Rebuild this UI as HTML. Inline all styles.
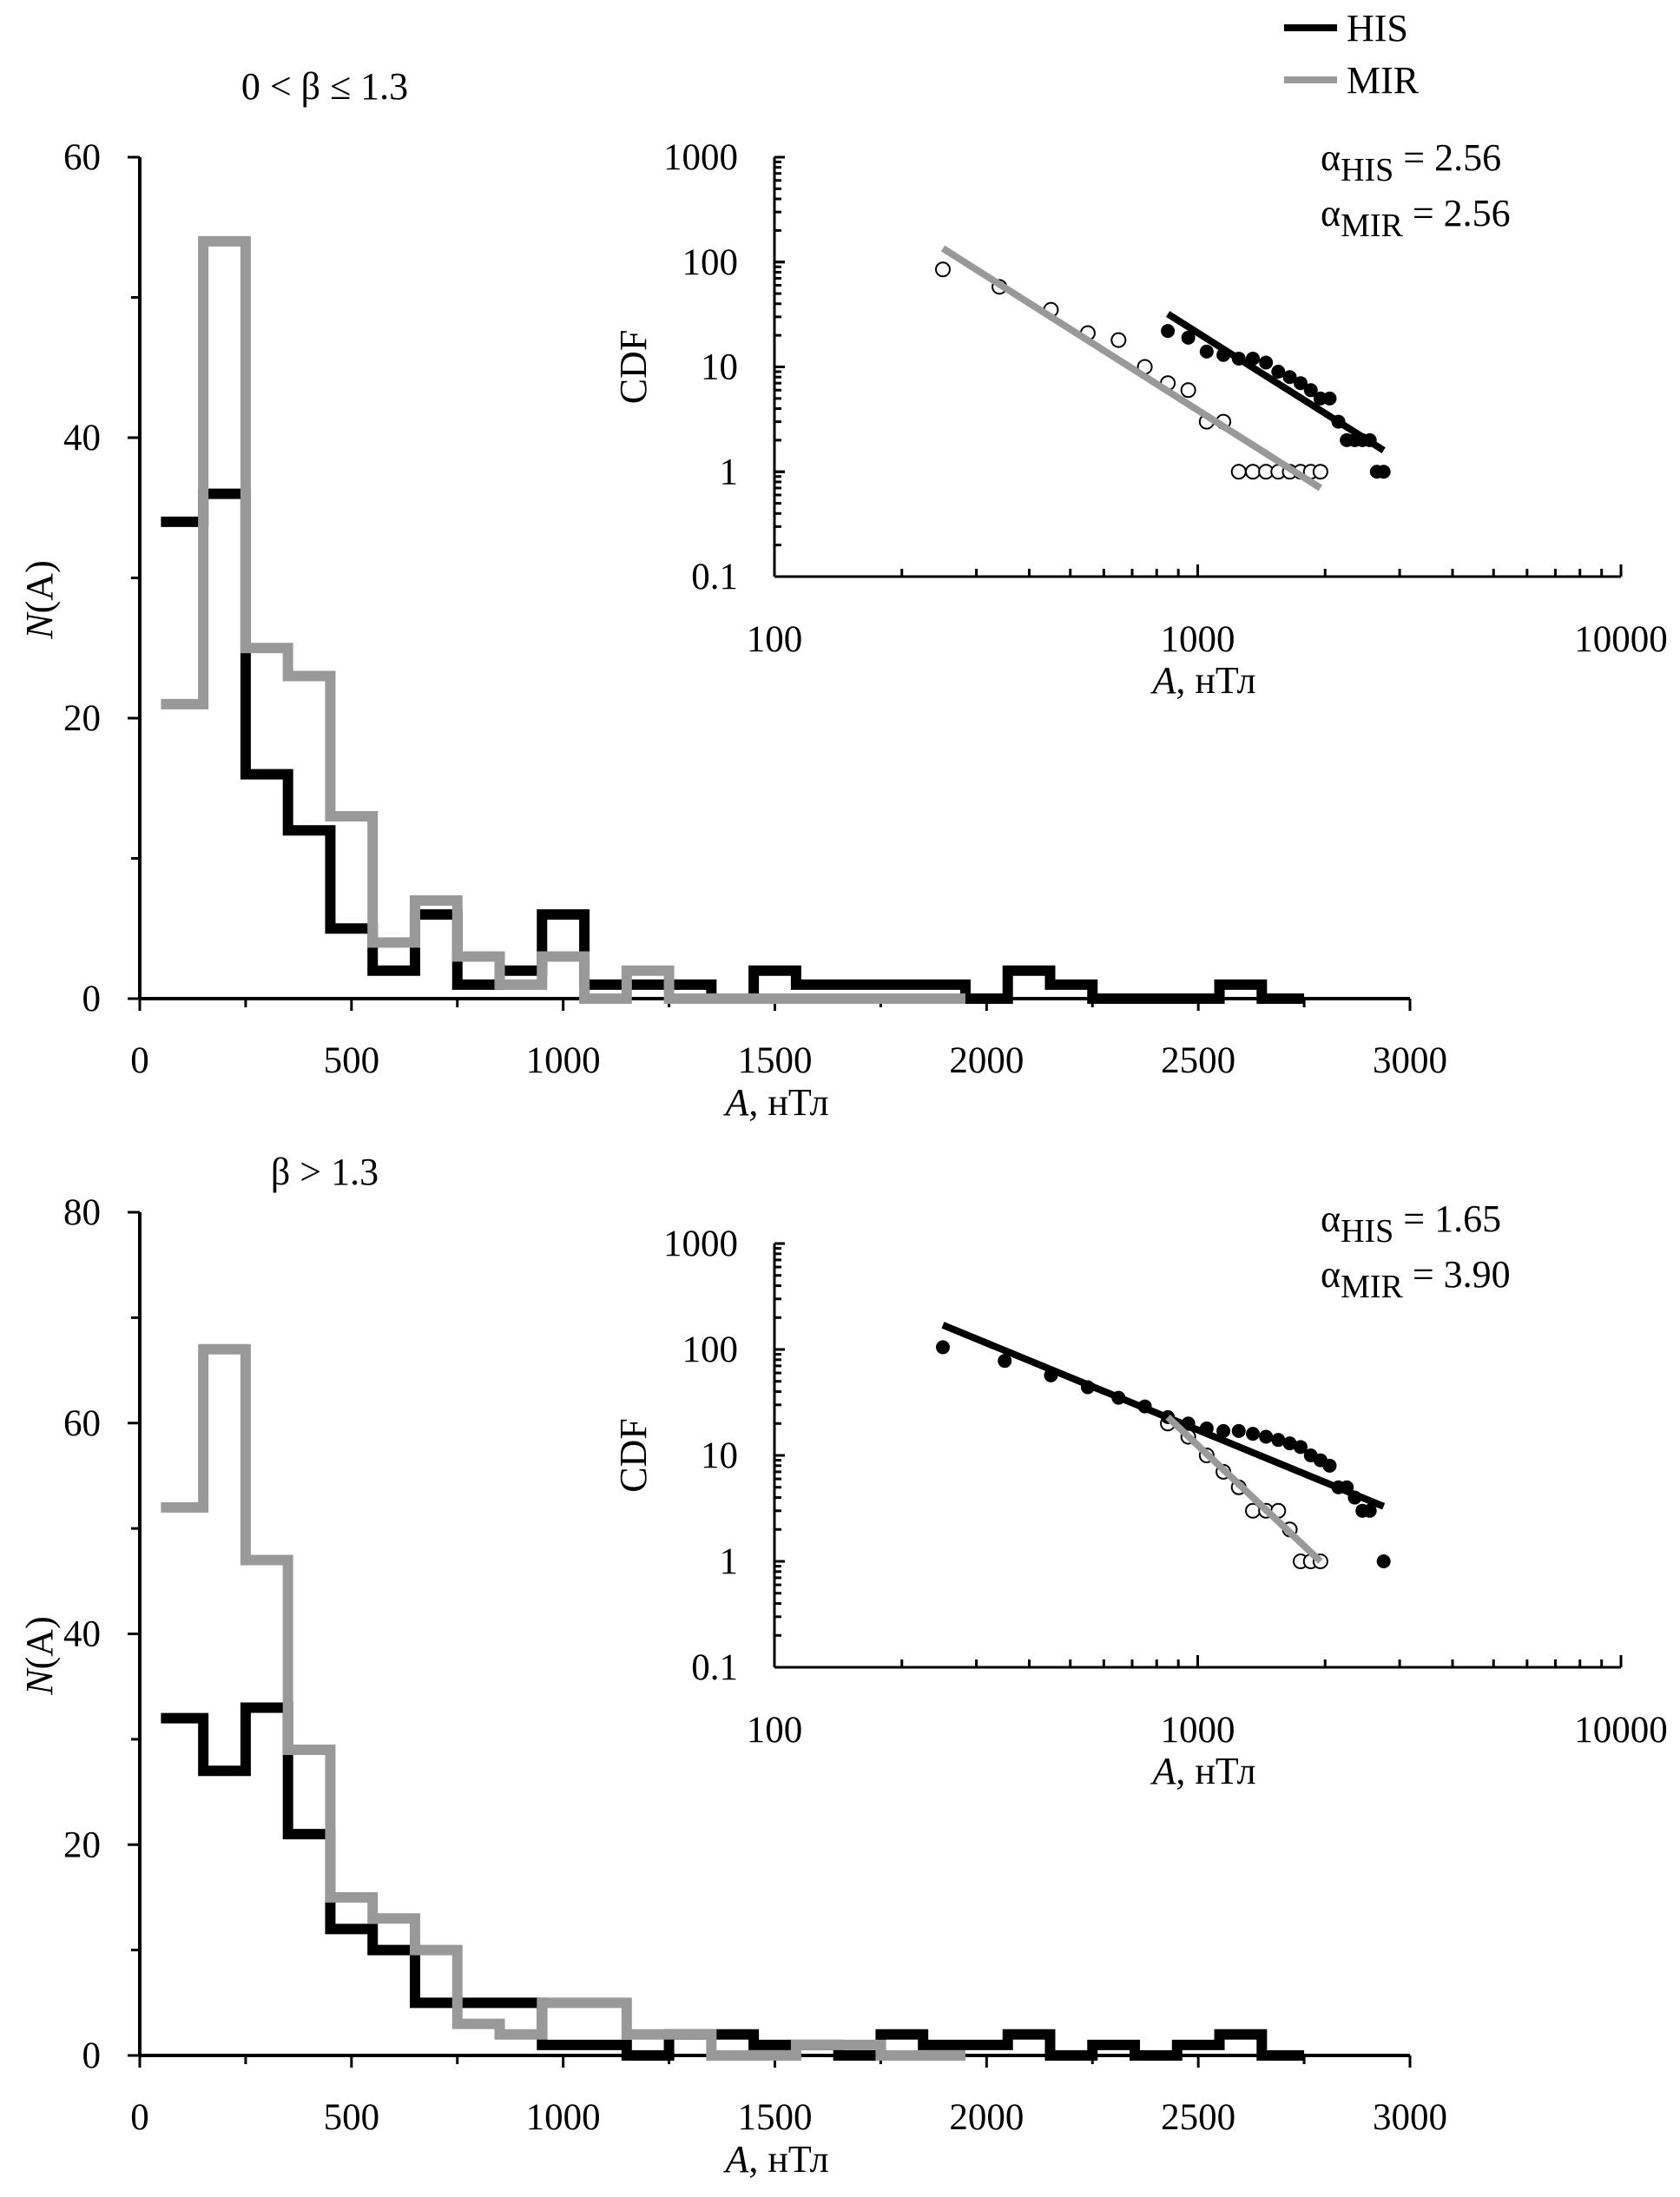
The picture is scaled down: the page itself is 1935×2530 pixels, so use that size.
<!DOCTYPE html>
<html><head><meta charset="utf-8"><style>
html,body{margin:0;padding:0;background:#fff}
svg{display:block;font-family:"Liberation Serif",serif}
</style></head><body>
<svg id="fig" width="1935" height="2530" viewBox="0 0 1935 2530" xmlns="http://www.w3.org/2000/svg"></svg>
<script>
const binStarts=[50,150,250,350,450,550,650,750,850,950,1050,1150,1250,1350,1450,1550,1650,1750,1850,1950,2050,2150,2250,2350,2450,2550,2650];
const topHIS=[34,36,16,12,5,2,6,1,2,6,1,1,1,0,2,1,1,1,1,0,2,1,0,0,0,1,0];
const topMIR=[21,54,25,23,13,4,7,3,1,3,0,2,0,0,0,0,0,0,0];
const botHIS=[32,27,33,21,12,10,5,5,5,1,1,0,2,2,1,1,0,2,1,1,2,0,1,0,1,2,0];
const botMIR=[52,67,47,29,15,13,10,3,2,5,5,2,2,0,0,1,1,0,0];
const xTicks=[0,500,1000,1500,2000,2500,3000];
const topYTicks=[0,20,40,60];
const botYTicks=[0,20,40,60,80];
const logXTicks=[100,1000,10000];
const logYTicks=[0.1,1,10,100,1000];
const topHisPtsX=[850,950,1050,1150,1250,1350,1450,1550,1650,1750,1850,1950,2050,2150,2250,2350,2450,2550,2650,2750];
const topHisPtsY=[22,19,14,13,12,12,11,9,8,7,6,5,5,3,2,2,2,2,1,1];
const topMirPtsX=[250,340,450,550,650,750,850,950,1050,1150,1250,1350,1450,1550,1650,1750,1850,1950];
const topMirPtsY=[85,58,35,21,18,10,7,6,3,3,1,1,1,1,1,1,1,1];
const botHisPtsX=[250,350,450,550,650,750,850,950,1050,1150,1250,1350,1450,1550,1650,1750,1850,1950,2050,2150,2250,2350,2450,2550,2750];
const botHisPtsY=[105,78,57,44,35,29,23,20,18,17,17,16,15,14,13,12,10,9,8,5,5,4,3,3,1];
const botMirPtsX=[850,950,1050,1150,1250,1350,1450,1550,1650,1750,1850,1950];
const botMirPtsY=[20,15,10,7,5,3,3,3,2,1,1,1];
const topFitHIS=[[850,32],[2750,1.6]];
const topFitMIR=[[250,135],[1950,0.7]];
const botFitHIS=[[250,170],[2750,3.3]];
const botFitMIR=[[850,23],[1950,1]];

const NS="http://www.w3.org/2000/svg";
const svg=document.getElementById('fig');
function mk(tag,attrs,parent,text){const e=document.createElementNS(NS,tag);for(const k in attrs)e.setAttribute(k,attrs[k]);if(text!==undefined)e.textContent=text;(parent||svg).appendChild(e);return e;}

function panel(p){
  const g=mk('g',{});
  
  
  const X0=161,X1=1624;
  const sx=v=>X0+(X1-X0)*v/3000;
  const sy=v=>p.y0+(p.yTop-p.y0)*v/p.ymax;
  const ax=mk('line',{x1:X0,y1:p.y0,x2:X1,y2:p.y0,stroke:'#000','stroke-width':4},g);
  
  const ay=mk('line',{x1:X0,y1:p.y0,x2:X0,y2:p.yTop,stroke:'#000','stroke-width':4},g);
  
  for(let v=0;v<=3000;v+=250){mk('line',{x1:sx(v),y1:p.y0,x2:sx(v),y2:p.y0+(v%500==0?14:10),stroke:'#000','stroke-width':3},g);}
  xTicks.forEach(v=>{const t=mk('text',{x:sx(v),y:p.y0+85,'font-size':43,'text-anchor':'middle'},g,String(v));});
  for(let v=0;v<=p.ymax;v+=10){mk('line',{x1:X0-(v%20==0?14:10),y1:sy(v),x2:X0,y2:sy(v),stroke:'#000','stroke-width':3},g);}
  p.yTicks.forEach(v=>{const t=mk('text',{x:116,y:sy(v)+14,'font-size':43,'text-anchor':'end'},g,String(v));});
  const yt=mk('text',{x:0,y:0,'font-size':44,'text-anchor':'middle',transform:`translate(60,${(p.y0+p.yTop)/2+25}) rotate(-90)`},g);
  
  mk('tspan',{'font-style':'italic'},yt,'N');mk('tspan',{},yt,'(A)');
  const xt=mk('text',{x:895,y:p.y0+134,'font-size':44,'text-anchor':'middle'},g);
  
  mk('tspan',{'font-style':'italic'},xt,'A');mk('tspan',{},xt,', нТл');
  const tt=mk('text',{x:374,y:p.titleY,'font-size':44,'text-anchor':'middle','xml:space':'preserve'},g,p.title);
  
  function steps(vals,color,name){
    let d='';
    vals.forEach((v,i)=>{const a=sx(binStarts[i]),b=sx(binStarts[i]+100),y=sy(v);d+=(i==0?`M${a},${y}`:`L${a},${y}`)+`L${b},${y}`;});
    const path=mk('path',{d:d,fill:'none',stroke:color,'stroke-width':12,'stroke-linejoin':'miter'},g);
    
  }
  steps(p.his,'#000','his-histogram');
  steps(p.mir,'#999','mir-histogram');
  const L0=892,L1=1867,iy0=p.iy0,iy1=p.iy1;
  const lx=v=>L0+(L1-L0)*(Math.log10(v)-2)/2;
  const ly=v=>iy0+(iy1-iy0)*(Math.log10(v)+1)/4;
  const ig=mk('g',{},g);
  mk('line',{x1:L0,y1:iy0,x2:L1,y2:iy0,stroke:'#000','stroke-width':3},ig);
  mk('line',{x1:L0,y1:iy0,x2:L0,y2:iy1,stroke:'#000','stroke-width':3},ig);
  for(let e=2;e<4;e++)for(let m=1;m<=10;m++){const v=m*Math.pow(10,e);mk('line',{x1:lx(v),y1:iy0,x2:lx(v),y2:iy0-(m==1||m==10?14:9),stroke:'#000','stroke-width':3},ig);}
  for(let e=-1;e<3;e++)for(let m=1;m<=10;m++){const v=m*Math.pow(10,e);mk('line',{x1:L0,y1:ly(v),x2:L0+(m==1||m==10?12:8),y2:ly(v),stroke:'#000','stroke-width':3},ig);}
  logXTicks.forEach(v=>{const t=mk('text',{x:lx(v),y:iy0+86,'font-size':43,'text-anchor':'middle'},ig,String(v));});
  logYTicks.forEach(v=>{const t=mk('text',{x:850,y:ly(v)+14,'font-size':43,'text-anchor':'end'},ig,String(v));});
  const ct=mk('text',{x:0,y:0,'font-size':44,'text-anchor':'middle',transform:`translate(744,${(iy0+iy1)/2}) rotate(-90)`},ig,'CDF');
  
  const ixt=mk('text',{x:1387,y:iy0+134,'font-size':44,'text-anchor':'middle'},ig);
  
  mk('tspan',{'font-style':'italic'},ixt,'A');mk('tspan',{},ixt,', нТл');
  function fit(pts,color,name){const l=mk('line',{x1:lx(pts[0][0]),y1:ly(pts[0][1]),x2:lx(pts[1][0]),y2:ly(pts[1][1]),stroke:color,'stroke-width':8},ig);}
  p.mirX.forEach((x,i)=>{const c=mk('circle',{cx:lx(x),cy:ly(p.mirY[i]),r:8,fill:'#fff',stroke:'#000','stroke-width':2},ig);});
  p.hisX.forEach((x,i)=>{const c=mk('circle',{cx:lx(x),cy:ly(p.hisY[i]),r:8,fill:'#000'},ig);});
  fit(p.fitH,'#000','his-fit-line');
  fit(p.fitM,'#999','mir-fit-line');
  [[p.aH,'HIS',p.ay],[p.aM,'MIR',p.ay+64]].forEach(([val,sub,y])=>{
    const t=mk('text',{x:1521,y:y,'font-size':44},ig);
    
    mk('tspan',{},t,'α');mk('tspan',{dy:12,'font-size':38},t,sub);mk('tspan',{dy:-12},t,' = '+val);
  });
}
panel({name:'top-panel',y0:1150,yTop:181,ymax:60,yTicks:topYTicks,titleY:114,title:'0  <  β  ≤  1.3',his:topHIS,mir:topMIR,iy0:664,iy1:181,hisX:topHisPtsX,hisY:topHisPtsY,mirX:topMirPtsX,mirY:topMirPtsY,fitH:topFitHIS,fitM:topFitMIR,aH:'2.56',aM:'2.56',ay:196});
panel({name:'bottom-panel',y0:2367,yTop:1396,ymax:80,yTicks:botYTicks,titleY:1364,title:'β  >  1.3',his:botHIS,mir:botMIR,iy0:1920,iy1:1432,hisX:botHisPtsX,hisY:botHisPtsY,mirX:botMirPtsX,mirY:botMirPtsY,fitH:botFitHIS,fitM:botFitMIR,aH:'1.65',aM:'3.90',ay:1418});
const lg=mk('g',{});
[['HIS','#000',32],['MIR','#999',92]].forEach(([n,c,y])=>{
  const e=mk('g',{},lg);
  mk('line',{x1:1479,y1:y,x2:1540,y2:y,stroke:c,'stroke-width':8},e);
  mk('text',{x:1551,y:y+15,'font-size':44},e,n);
});
</script>
</body></html>
